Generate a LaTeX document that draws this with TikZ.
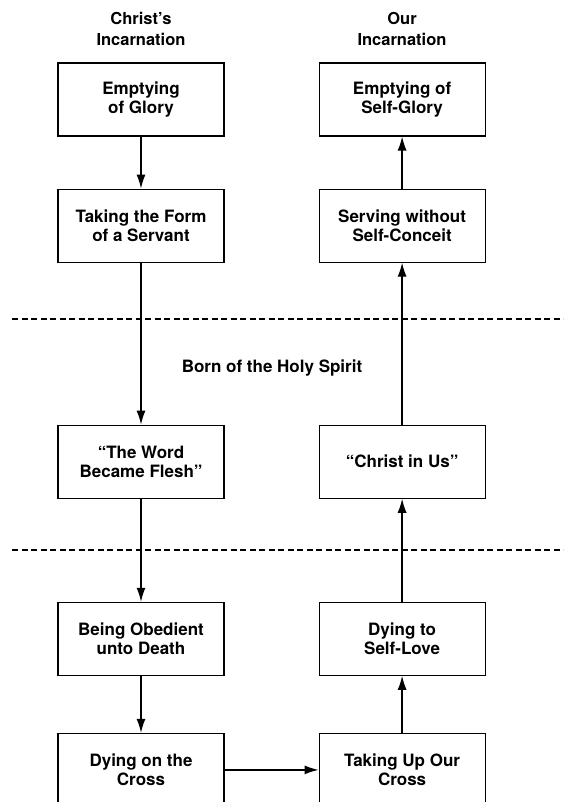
\documentclass[tikz,border=0pt]{standalone}
\usepackage{fontspec}
\setmainfont{TeX Gyre Heros}
\usetikzlibrary{positioning, arrows.meta}

\begin{document}
\begin{tikzpicture}[x=1pt, y=1pt, node distance=52pt and 94pt,
		box/.style={draw, line width=1.1pt, minimum width=166pt, minimum height=73pt, align=center, font=\bfseries\fontsize{17}{19.5}\selectfont},
		head/.style={align=center, font=\bfseries\fontsize{16.5}{21}\selectfont},
		flow/.style={line width=1.3pt, -{Latex[length=14pt,width=9pt]}},
		divider/.style={line width=1.3pt, dash pattern=on 6pt off 3.5pt}]
		\useasboundingbox (0,0) rectangle (563,-802);
		\clip (0,0) rectangle (563,-802);
		\node[head] (h1) at (141,-28.5) {Christ's\\Incarnation};
		\node[head] (h2) at (402,-28.5) {Our\\Incarnation};
		% Christ's incarnation, top to bottom
		\node[box] (c1) at (141,-99.5) {Emptying\\of Glory};
		\node[box, below =of c1] (c2) {Taking the Form\\of a Servant};
		\node[box, below =162pt of c2] (c3) {``The Word\\Became Flesh''};
		\node[box, below =103pt of c3] (c4) {Being Obedient\\unto Death};
		\node[box, below =57pt of c4] (c5) {Dying on the\\Cross};
		% our incarnation, bottom to top
		\node[box, right =of c1] (o1) {Emptying of\\Self-Glory};
		\node[box, right =of c2] (o2) {Serving without\\Self-Conceit};
		\node[box, right =of c3] (o3) {``Christ in Us''};
		\node[box, right =of c4] (o4) {Dying to\\Self-Love};
		\node[box, right =of c5] (o5) {Taking Up Our\\Cross};
		\node[font=\bfseries\fontsize{17}{19.5}\selectfont] (spirit) at (272,-368) {Born of the Holy Spirit};
		\draw[divider] (12,-319) -- (563,-319);
		\draw[divider] (12,-550) -- (563,-550);
		\foreach \from/\to in {c1/c2,c2/c3,c3/c4,c4/c5,c5/o5,o5/o4,o4/o3,o3/o2,o2/o1}
			\draw[flow] (\from) -- (\to);
	\end{tikzpicture}
\end{document}
